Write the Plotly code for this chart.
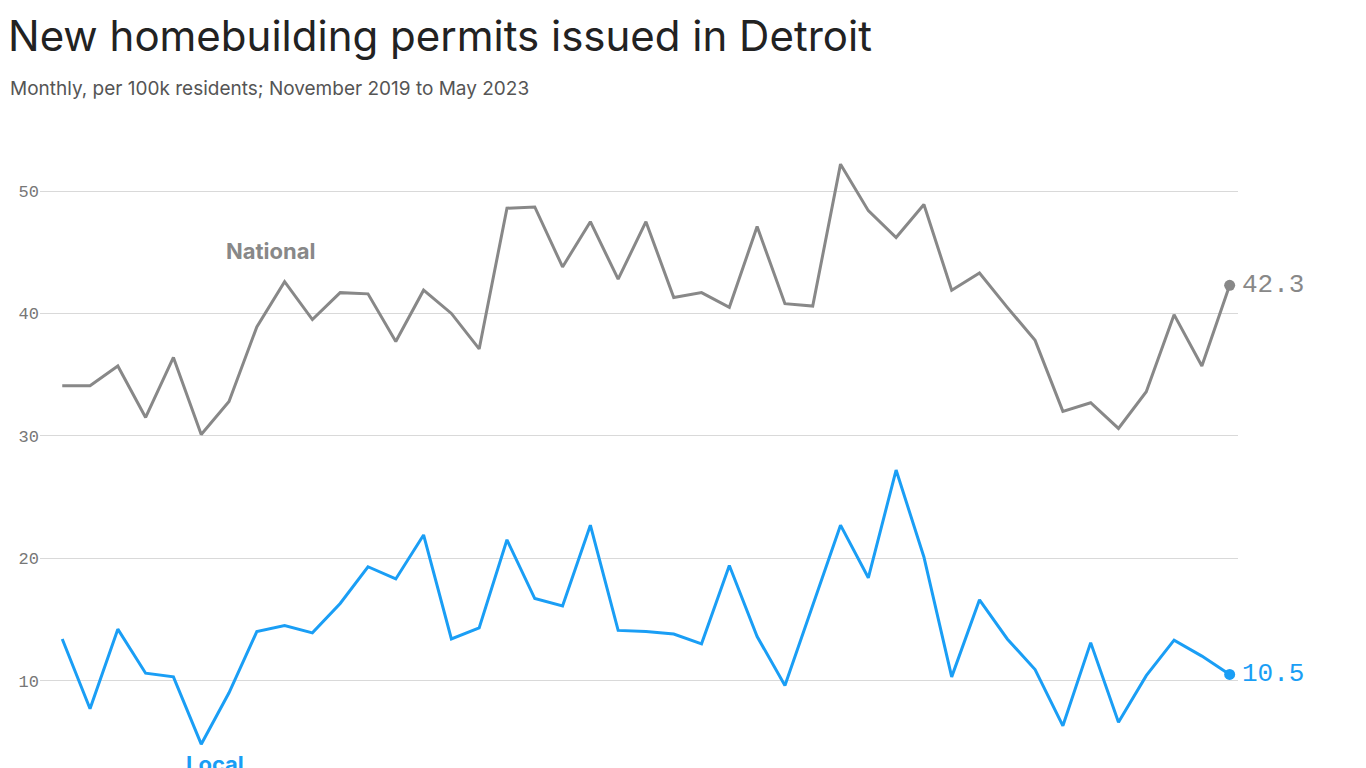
import plotly.graph_objects as go

months = list(range(43))  # Nov 2019 .. May 2023
national = [34.1, 34.1, 35.7, 31.5, 36.4, 30.1, 32.8, 38.9, 42.6, 39.5, 41.7, 41.6, 37.7, 41.9, 40.0,
            37.1, 48.6, 48.7, 43.8, 47.5, 42.8, 47.5, 41.3, 41.7, 40.5, 47.1, 40.8, 40.6, 52.2, 48.4,
            46.2, 48.9, 41.9, 43.3, 40.5, 37.8, 32.0, 32.7, 30.6, 33.6, 39.9, 35.7, 42.3]
local = [13.4, 7.7, 14.2, 10.6, 10.3, 4.8, 9.0, 14.0, 14.5, 13.9, 16.3, 19.3, 18.3, 21.9, 13.4,
         14.3, 21.5, 16.7, 16.1, 22.7, 14.1, 14.0, 13.8, 13.0, 19.4, 13.6, 9.6, 16.1, 22.7, 18.4,
         27.2, 20.1, 10.3, 16.6, 13.4, 10.9, 6.3, 13.1, 6.6, 10.4, 13.3, 12.0, 10.5]

GREY = "#888888"
BLUE = "#1a9ef5"
MONO = "Liberation Mono"

fig = go.Figure()
fig.add_trace(go.Scatter(x=months, y=national, mode="lines", line=dict(color=GREY, width=3),
                         hoverinfo="skip"))
fig.add_trace(go.Scatter(x=months, y=local, mode="lines", line=dict(color=BLUE, width=3),
                         hoverinfo="skip"))
fig.add_trace(go.Scatter(x=[months[-1], months[-1]], y=[national[-1], local[-1]], mode="markers",
                         marker=dict(color=[GREY, BLUE], size=11), hoverinfo="skip"))

fig.add_annotation(x=months[-1], y=national[-1], text="%.1f" % national[-1], showarrow=False,
                   xanchor="left", xshift=10, font=dict(family=MONO, size=26, color=GREY))
fig.add_annotation(x=months[-1], y=local[-1], text="%.1f" % local[-1], showarrow=False,
                   xanchor="left", xshift=10, font=dict(family=MONO, size=26, color=BLUE))
fig.add_annotation(x=7.5, y=45.1, text="<b>National</b>", showarrow=False,
                   font=dict(family="Inter", size=22, color=GREY))
fig.add_annotation(x=5.5, y=3.2, text="<b>Local</b>", showarrow=False,
                   font=dict(family="Inter", size=22, color=BLUE))

fig.update_layout(
    width=1366, height=768,
    margin=dict(l=32, r=136, t=128, b=0),
    plot_bgcolor="white", paper_bgcolor="white",
    showlegend=False,
    title=dict(text="New homebuilding permits issued in Detroit", x=0, xref="container",
               xanchor="left", y=0.963, yanchor="middle",
               font=dict(family="Inter", size=42, color="#222222")),
    annotations=list(fig.layout.annotations) + [
        dict(text="Monthly, per 100k residents; November 2019 to May 2023", xref="paper", yref="paper",
             x=-0.0267, y=1.075, xanchor="left", yanchor="middle", showarrow=False,
             font=dict(family="Inter", size=19, color="#555555"))],
)
fig.update_xaxes(range=[-0.8, 42.3], visible=False)
fig.update_yaxes(range=[2.2, 54.5], tickvals=[10, 20, 30, 40, 50], showgrid=True,
                 gridcolor="#d9d9d9", gridwidth=1, zeroline=False, ticks="",
                 tickfont=dict(family=MONO, size=17, color="#777777"))

fig.write_html("out.html")
